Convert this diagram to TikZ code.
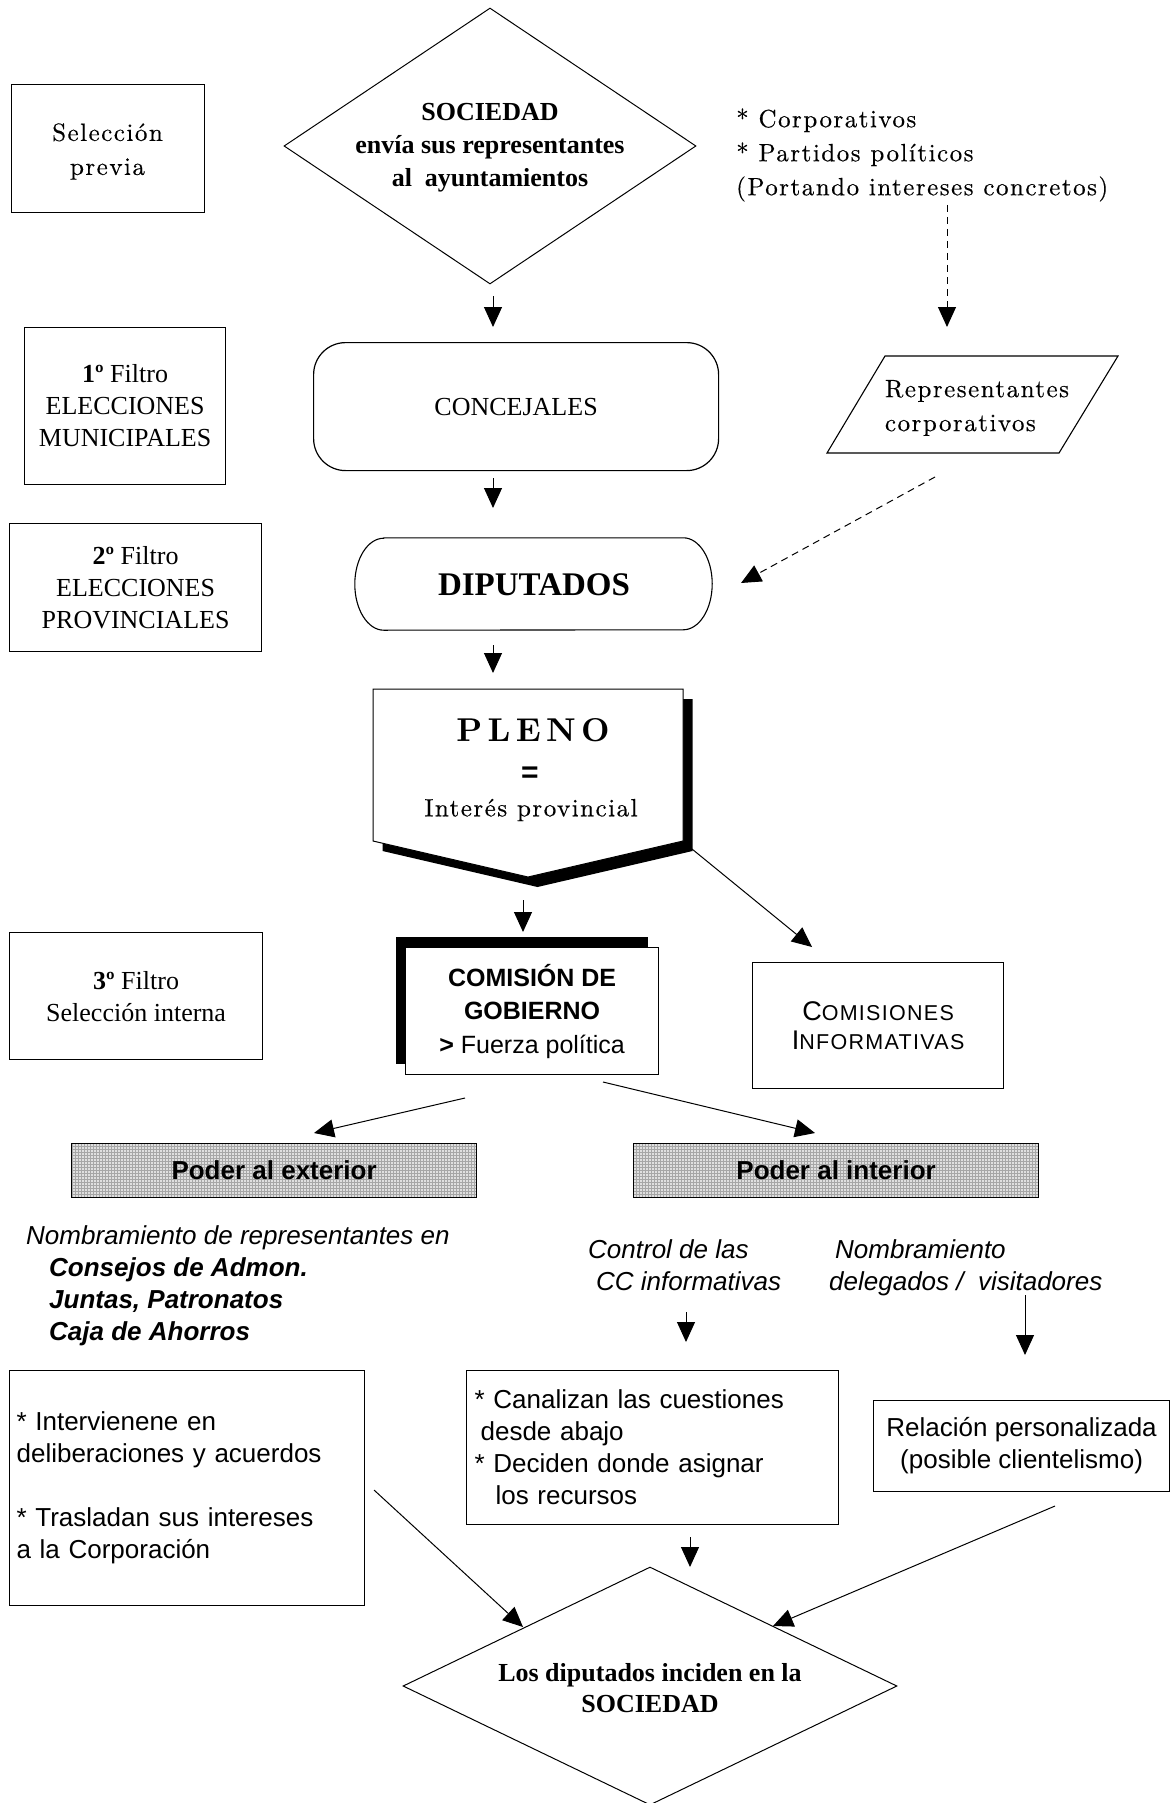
\documentclass[tikz,border=0pt]{standalone}
\usepackage{fontspec}
\newfontfamily\tnr{Liberation Serif}
\newfontfamily\arial{Liberation Sans}
\newfontfamily\lmr[LetterSpace=6,FakeBold=0.35]{lmroman10-regular.otf}
\newfontfamily\lmbsp[LetterSpace=16]{lmroman10-bold.otf}
\usetikzlibrary{arrows.meta,patterns,shapes.geometric}
\newcommand\lmfont{\lmr\fontsize{25}{34}\selectfont}
\newcommand\tnrfont{\tnr\fontsize{26}{32}\selectfont}
\newcommand\arfont{\arial\fontsize{26}{32}\selectfont}
\begin{document}
\begin{tikzpicture}[x=1pt,y=-1pt,
  arr/.style={-{Triangle[length=20pt,width=18pt]},line width=1pt},
  dsh/.style={arr,dash pattern=on 7pt off 5pt},
  bx/.style={draw,line width=1.2pt,fill=white,inner sep=0pt,anchor=north west,align=center},
  txt/.style={inner sep=0pt,align=center},
  lm/.style={font=\lmfont},
  tr/.style={font=\tnrfont},
  ar/.style={font=\arfont},
  poder/.style={draw,line width=1.2pt,inner sep=0pt,anchor=north west,preaction={fill=gray!25},pattern=grid,pattern color=gray!70,font=\arial\bfseries\fontsize{26}{30}\selectfont}
]
\useasboundingbox (0,0) rectangle (1171,1803);

% ---------- top row ----------
\node[bx,minimum width=193,minimum height=128] (sel) at (11,84) {};
\node[txt,lm] (selt) at (107.5,151.5) {Selección\\previa};
\node[diamond,draw,line width=1pt,minimum width=412,minimum height=276,inner sep=0pt] (soc) at (490,146) {};
\node[txt,font=\tnr\bfseries\fontsize{26}{33}\selectfont] (soct) at (490,148) {SOCIEDAD\\envía sus representantes\\al\ \ ayuntamientos};
\node[txt,lm,anchor=west,align=left] (corp) at (736,155) {{}* Corporativos\\{}* Partidos políticos\\(Portando intereses concretos)};

% ---------- second row ----------
\node[bx,tr,minimum width=201,minimum height=157] (f1) at (24,327) {\textbf{1º} Filtro\\ELECCIONES\\MUNICIPALES};
\node[bx,tr,rounded corners=32pt,minimum width=405,minimum height=128] (conc) at (313,342) {CONCEJALES};
\draw[line width=1.1pt] (827,453) -- (885,356) -- (1118,356) -- (1059,453) -- cycle;
\node[txt,lm,align=left] (rep) at (977,408) {Representantes\\corporativos};

% ---------- DIPUTADOS ----------
\node[bx,tr,minimum width=252,minimum height=128] (f2) at (9,523) {\textbf{2º} Filtro\\ELECCIONES\\PROVINCIALES};
\node[minimum width=357,minimum height=92,inner sep=0pt] (dip) at (533.5,584) {};
\draw[line width=1.1pt] ([xshift=29pt]dip.north west) -- ([xshift=-29pt]dip.north east)
  arc[start angle=90,end angle=-90,x radius=29pt,y radius=46pt]
  -- ([xshift=29pt]dip.south west)
  arc[start angle=270,end angle=90,x radius=29pt,y radius=46pt] -- cycle;
\node[txt,font=\tnr\bfseries\fontsize{33}{36}\selectfont] (dipt) at (534,585) {DIPUTADOS};

% ---------- PLENO ----------
\fill (382.5,699) -- (692.5,699) -- (692.5,851) -- (537.5,887) -- (382.5,851) -- cycle;
\draw[fill=white,line width=1pt] (373,689) -- (683,689) -- (683,841) -- (528,877) -- (373,841) -- cycle;
\node[txt,font=\lmbsp\fontsize{33}{36}\selectfont] (pleno) at (533,730) {PLENO};
\node[txt,font=\arial\bfseries\fontsize{30}{30}\selectfont] (pleq) at (530,775) {=};
\node[txt,lm] (plint) at (531,810) {Interés provincial};

% ---------- third row ----------
\node[bx,tr,minimum width=253,minimum height=127] (f3) at (9,932) {\textbf{3º} Filtro\\Selección interna};
\fill (396,937) rectangle (648,1064);
\node[bx,font=\arial\fontsize{25}{33.5}\selectfont,minimum width=253,minimum height=127] (com) at (405,947)
  {\textbf{COMISIÓN DE}\\\textbf{GOBIERNO}\\\textbf{>} Fuerza política};
\node[bx,font=\arial\fontsize{21.5}{29}\selectfont\addfontfeatures{LetterSpace=6},minimum width=251,minimum height=126] (cinf) at (752,962)
  {{\fontsize{27}{29}\selectfont C}OMISIONES\\{\fontsize{27}{29}\selectfont I}NFORMATIVAS};

% ---------- poder ----------
\node[poder,minimum width=405,minimum height=54] (pext) at (71,1143) {Poder al exterior};
\node[poder,minimum width=405,minimum height=54] (pint) at (633,1143) {Poder al interior};

% ---------- italic texts ----------
\node[txt,ar,anchor=north west,align=left] (nomb) at (26,1225)
  {\textit{Nombramiento de representantes en}\\
   \hspace*{23pt}\textbf{\textit{Consejos de Admon.}}\\
   \hspace*{23pt}\textbf{\textit{Juntas, Patronatos}}\\
   \hspace*{23pt}\textbf{\textit{Caja de Ahorros}}};
\node[txt,ar,anchor=north west,align=left] (ctrl) at (588,1239)
  {\textit{Control de las}\\\hspace*{8pt}\textit{CC informativas}};
\node[txt,ar,anchor=north west,align=left] (nomd) at (829,1239)
  {\hspace*{6pt}\textit{Nombramiento}\\\textit{delegados /\ \ visitadores}};

% ---------- bottom boxes ----------
\node[bx,ar,align=left,text width=341pt,inner xsep=7pt,inner ysep=0pt,minimum height=235] (intv) at (9,1370)
  {{}* Intervienene en\\deliberaciones y acuerdos\\[32pt]{}* Trasladan sus intereses\\a la Corporación};
\node[bx,ar,align=left,text width=356pt,inner xsep=8pt,inner ysep=0pt,minimum height=154] (canal) at (466,1370)
  {{}* Canalizan las cuestiones\\\hspace*{6pt}desde abajo\\{}* Deciden donde asignar\\\hspace*{21pt}los recursos};
\node[bx,ar,minimum width=296,minimum height=91] (rel) at (873,1400)
  {Relación personalizada\\(posible clientelismo)};

\node[diamond,draw,line width=1pt,minimum width=494,minimum height=238,inner sep=0pt] (soc2) at (650,1686) {};
\node[txt,font=\tnr\bfseries\fontsize{26}{31}\selectfont] (soc2t) at (650,1688) {Los diputados inciden en la\\SOCIEDAD};

% ---------- connector end points ----------
\coordinate (a1s) at (493,296);  \coordinate (a1e) at (493,327);
\coordinate (c1s) at (947,205);  \coordinate (c1e) at (947,327);
\coordinate (a2s) at (493,478);  \coordinate (a2e) at (493,508);
\coordinate (c2s) at (935,477);  \coordinate (c2e) at (741,583);
\coordinate (a3s) at (493,645);  \coordinate (a3e) at (493,673);
\coordinate (a4s) at (523,900);  \coordinate (a4e) at (523,932);
\coordinate (a5s) at (692,849);  \coordinate (a5e) at (812,947);
\coordinate (a7s) at (465,1098); \coordinate (a7e) at (314,1133);
\coordinate (a8s) at (603,1082); \coordinate (a8e) at (815,1133);
\coordinate (a9s) at (686,1312); \coordinate (a9e) at (686,1342);
\coordinate (a10s) at (1025,1295); \coordinate (a10e) at (1025,1355);
\coordinate (a11s) at (374,1490); \coordinate (a11e) at (523,1627);
\coordinate (a12s) at (1055,1506); \coordinate (a12e) at (773,1626);
\coordinate (a13s) at (690,1537); \coordinate (a13e) at (690,1567);

\draw[arr] (a1s) -- (a1e);
\draw[dsh] (c1s) -- (c1e);
\draw[arr] (a2s) -- (a2e);
\draw[dsh] (c2s) -- (c2e);
\draw[arr] (a3s) -- (a3e);
\draw[arr] (a4s) -- (a4e);
\draw[arr] (a5s) -- (a5e);
\draw[arr] (a7s) -- (a7e);
\draw[arr] (a8s) -- (a8e);
\draw[arr] (a9s) -- (a9e);
\draw[arr] (a10s) -- (a10e);
\draw[arr] (a11s) -- (a11e);
\draw[arr] (a12s) -- (a12e);
\draw[arr] (a13s) -- (a13e);
\end{tikzpicture}
\end{document}
